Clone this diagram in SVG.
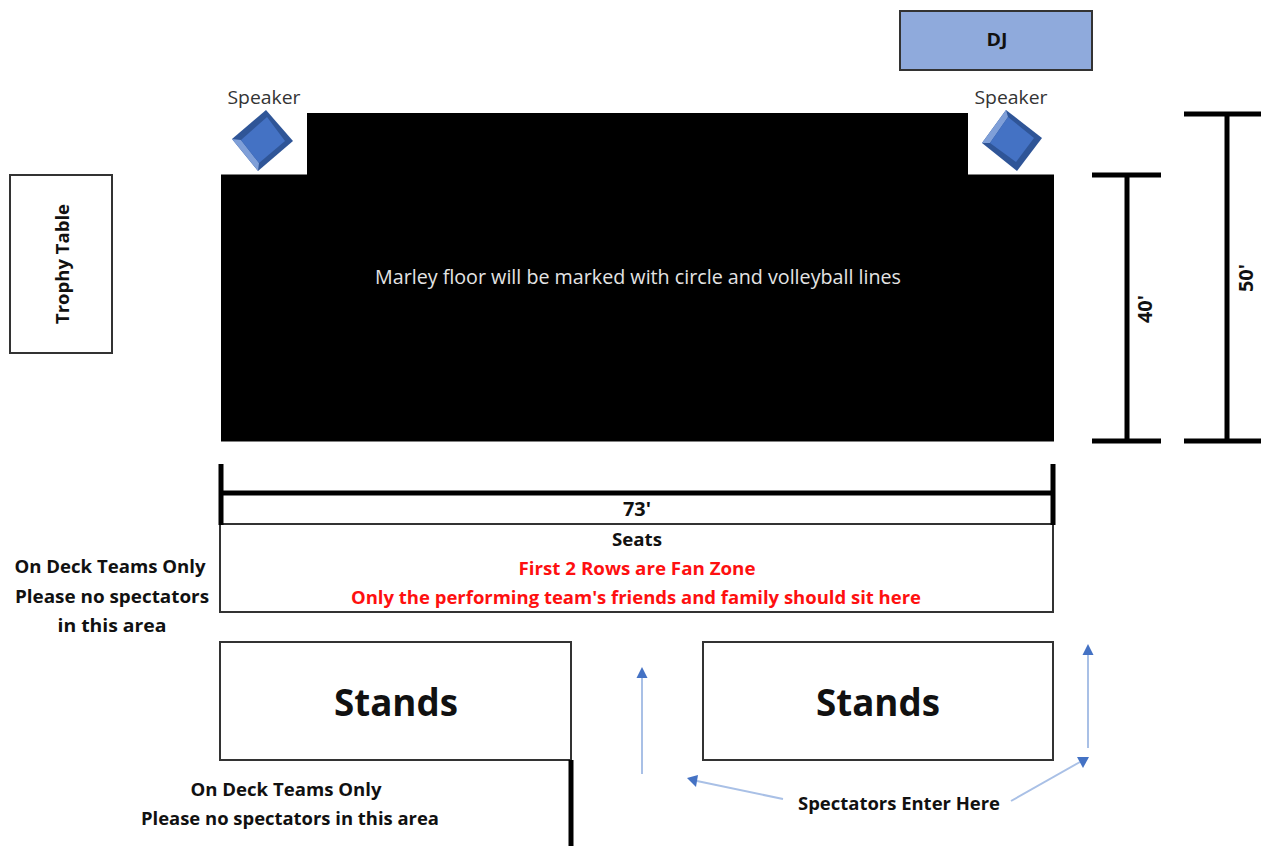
<svg xmlns="http://www.w3.org/2000/svg" width="1261" height="846" viewBox="0 0 1261 846">
<style>
text{font-family:"Open Sans","Noto Sans","DejaVu Sans",sans-serif;text-anchor:middle;fill:#111}
.b{font-weight:700}
.box{fill:#fff;stroke:#333;stroke-width:2}
.thick{fill:none;stroke:#000;stroke-width:5}
.blue{fill:none;stroke:#a9c0e6;stroke-width:2}
.red{fill:#fe1010;font-weight:700}
.tip{fill:#4472c4}
</style>
<rect width="1261" height="846" fill="#fff"/>
<g id="dj"><rect x="900" y="11" width="192" height="59" fill="#8faadc" stroke="#333" stroke-width="2"/><text class="b" x="997" y="46" font-size="17" textLength="21" lengthAdjust="spacingAndGlyphs">DJ</text></g>
<g id="floor"><path d="M221 174.500H307V113H968V174.500H1054V441.500H221Z" fill="#000"/><text x="638" y="284" font-size="20" textLength="526" lengthAdjust="spacingAndGlyphs" style="fill:#e4e4e4">Marley floor will be marked with circle and volleyball lines</text></g>
<g id="speaker-left"><text x="264" y="104" font-size="19" textLength="73" lengthAdjust="spacingAndGlyphs" style="fill:#333">Speaker</text><path d="M266 110L293 141L258 171L232 139Z" fill="#2f5597"/><path d="M232 139L258 171L259 163L241 140Z" fill="#7f9fd8"/><path d="M267 117L285 141L259 163L241 140Z" fill="#4472c4"/></g>
<g id="speaker-right"><text x="1011" y="104" font-size="19" textLength="73" lengthAdjust="spacingAndGlyphs" style="fill:#333">Speaker</text><path d="M1006 110L1042 138L1017 171L982 143Z" fill="#2f5597"/><path d="M982 143L1006 110L1008 117L990 143Z" fill="#7f9fd8"/><path d="M1008 117L1034 138L1016 162L990 143Z" fill="#4472c4"/></g>
<g id="trophy-table"><rect class="box" x="10" y="175" width="102" height="178"/><text class="b" transform="translate(69 264) rotate(-90)" font-size="18" textLength="120" lengthAdjust="spacingAndGlyphs">Trophy Table</text></g>
<g id="dim-40"><path class="thick" d="M1092 175H1161M1127 175V441M1092 441H1161"/><text class="b" transform="translate(1152 309) rotate(-90)" font-size="19" textLength="28" lengthAdjust="spacingAndGlyphs">40'</text></g>
<g id="dim-50"><path class="thick" d="M1184 114H1261M1227 114V441M1184 441H1261"/><text class="b" transform="translate(1253 278) rotate(-90)" font-size="19" textLength="28" lengthAdjust="spacingAndGlyphs">50'</text></g>
<g id="seats"><rect class="box" x="220" y="524" width="833" height="88"/><text class="b" x="637" y="546" font-size="18" textLength="50" lengthAdjust="spacingAndGlyphs">Seats</text><text class="red" x="637" y="575" font-size="18" textLength="237" lengthAdjust="spacingAndGlyphs">First 2 Rows are Fan Zone</text><text class="red" x="636" y="604" font-size="18" textLength="570" lengthAdjust="spacingAndGlyphs">Only the performing team's friends and family should sit here</text></g>
<g id="dim-73"><path class="thick" d="M221 464V525M1053 464V525M221 493H1053"/><text class="b" x="637" y="516" font-size="19" textLength="28" lengthAdjust="spacingAndGlyphs">73'</text></g>
<g id="on-deck-left"><text class="b" x="110" y="573" font-size="18" textLength="191" lengthAdjust="spacingAndGlyphs">On Deck Teams Only</text><text class="b" x="112" y="603" font-size="18" textLength="194" lengthAdjust="spacingAndGlyphs">Please no spectators</text><text class="b" x="112" y="632" font-size="18" textLength="109" lengthAdjust="spacingAndGlyphs">in this area</text></g>
<g id="stands-left"><rect class="box" x="220" y="642" width="351" height="118"/><text class="b" x="396" y="716" font-size="38" textLength="124" lengthAdjust="spacingAndGlyphs">Stands</text></g>
<g id="stands-right"><rect class="box" x="703" y="642" width="350" height="118"/><text class="b" x="878" y="716" font-size="38" textLength="124" lengthAdjust="spacingAndGlyphs">Stands</text></g>
<g id="wall"><path d="M571 760V846" fill="none" stroke="#000" stroke-width="5"/></g>
<g id="on-deck-bottom"><text class="b" x="286" y="796" font-size="18" textLength="191" lengthAdjust="spacingAndGlyphs">On Deck Teams Only</text><text class="b" x="290" y="825" font-size="18" textLength="298" lengthAdjust="spacingAndGlyphs">Please no spectators in this area</text></g>
<g id="spectators-label"><text class="b" x="899" y="810" font-size="18" textLength="202" lengthAdjust="spacingAndGlyphs">Spectators Enter Here</text></g>
<g id="connectors">
<path class="blue" d="M642 774V676"/><path class="tip" d="M642 667L636.500 678H647.500Z"/>
<path class="blue" d="M783 799L697 781"/><path class="tip" d="M687 778L698 775L696 787Z"/>
<path class="blue" d="M1088 748V654"/><path class="tip" d="M1088 644L1082.500 655H1093.500Z"/>
<path class="blue" d="M1011 801L1080 762"/><path class="tip" d="M1089 757L1077 757L1083 768Z"/>
</g>
</svg>
